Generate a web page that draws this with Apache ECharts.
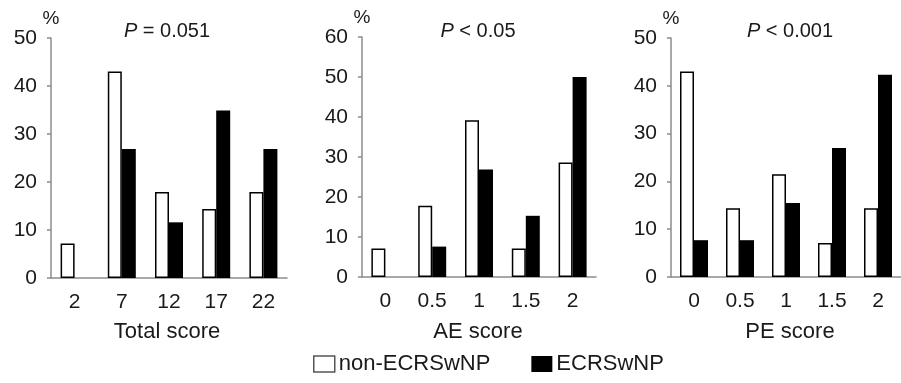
<!DOCTYPE html>
<html>
<head>
<meta charset="utf-8">
<script src="https://cdn.jsdelivr.net/npm/echarts@6/dist/echarts.min.js"></script>
<style>
  html, body { margin: 0; padding: 0; background: #fff; }
  #chart { width: 901px; height: 383px; }
</style>
</head>
<body>
<div id="chart"></div>
<script>
// data (% of patients)
const totalCats = ['2', '7', '12', '17', '22'];
const totalNon = [7.2, 43, 17.9, 14.4, 17.9];
const totalEcrs = [0, 26.9, 11.6, 34.9, 26.9];

const aeCats = ['0', '0.5', '1', '1.5', '2'];
const aeNon = [7.1, 17.8, 39.2, 7.1, 28.6];
const aeEcrs = [0, 7.6, 26.9, 15.3, 50];

const peCats = ['0', '0.5', '1', '1.5', '2'];
const peNon = [43, 14.4, 21.5, 7.1, 14.4];
const peEcrs = [7.7, 7.7, 15.5, 27, 42.3];

const panelTitles = ['= 0.051', '< 0.05', '< 0.001'];
const axisNames = ['Total score', 'AE score', 'PE score'];
const yMax = [50, 60, 50];

const font = 'Liberation Sans, Arial, sans-serif';
const axisGray = '#8c8c8c';
const ink = '#1a1a1a';

const grids = [
  { left: 51, top: 38, width: 236, height: 240 },
  { left: 362, top: 37, width: 234, height: 240 },
  { left: 671, top: 38, width: 238, height: 239 },
];
const cats = [totalCats, aeCats, peCats];
const nonData = [totalNon, aeNon, peNon];
const ecrsData = [totalEcrs, aeEcrs, peEcrs];

const centers = [167, 478, 790];

const xAxes = [], yAxes = [], series = [], titles = [];
for (let i = 0; i < 3; i++) {
  xAxes.push({
    type: 'category',
    gridIndex: i,
    data: cats[i],
    axisLine: { lineStyle: { color: axisGray, width: 1.5 } },
    axisTick: { length: 5, lineStyle: { color: axisGray, width: 1.5 } },
    axisLabel: { color: ink, fontSize: 21, fontFamily: font, margin: 14 },
  });
  yAxes.push({
    type: 'value',
    gridIndex: i,
    min: 0,
    max: yMax[i],
    interval: 10,
    name: '%',
    nameGap: 10,
    nameTextStyle: { color: ink, fontSize: 19, fontFamily: font },
    axisLine: { show: true, lineStyle: { color: axisGray, width: 1.5 } },
    axisTick: { show: true, length: 4, lineStyle: { color: axisGray, width: 1.5 } },
    axisLabel: { color: ink, fontSize: 21, fontFamily: font, margin: 14 },
    splitLine: { show: false },
  });
  series.push({
    name: 'non-ECRSwNP',
    type: 'bar',
    xAxisIndex: i,
    yAxisIndex: i,
    data: nonData[i],
    barWidth: 14,
    barGap: '0%',
    itemStyle: { color: '#fff', borderColor: '#000', borderWidth: 1.5 },
  });
  series.push({
    name: 'ECRSwNP',
    type: 'bar',
    xAxisIndex: i,
    yAxisIndex: i,
    data: ecrsData[i],
    barWidth: 14,
    barGap: '0%',
    itemStyle: { color: '#000', borderWidth: 0 },
  });
  titles.push({
    text: '{i|P} ' + panelTitles[i],
    left: centers[i],
    top: 21,
    padding: 0,
    textAlign: 'center',
    textStyle: {
      color: ink, fontSize: 20, fontWeight: 'normal', fontFamily: font,
      rich: { i: { fontStyle: 'italic', fontSize: 20, fontFamily: font, color: ink } },
    },
  });
  titles.push({
    text: axisNames[i],
    left: centers[i],
    top: 321,
    padding: 0,
    textAlign: 'center',
    textStyle: { color: ink, fontSize: 22, fontWeight: 'normal', fontFamily: font },
  });
}

const chart = echarts.init(document.getElementById('chart'));
chart.setOption({
  animation: false,
  backgroundColor: '#fff',
  title: titles,
  legend: {
    data: [
      { name: 'non-ECRSwNP', icon: 'rect', itemStyle: { color: '#fff', borderColor: '#555', borderWidth: 1.5 } },
      { name: 'ECRSwNP', icon: 'rect', itemStyle: { color: '#000', borderWidth: 0 } },
    ],
    left: 313,
    top: 353,
    padding: 0,
    itemWidth: 21,
    itemHeight: 16,
    itemGap: 41,
    textStyle: { color: ink, fontSize: 22, fontFamily: font, padding: [0, 0, 0, -1] },
  },
  grid: grids,
  xAxis: xAxes,
  yAxis: yAxes,
  series,
});
</script>
</body>
</html>
